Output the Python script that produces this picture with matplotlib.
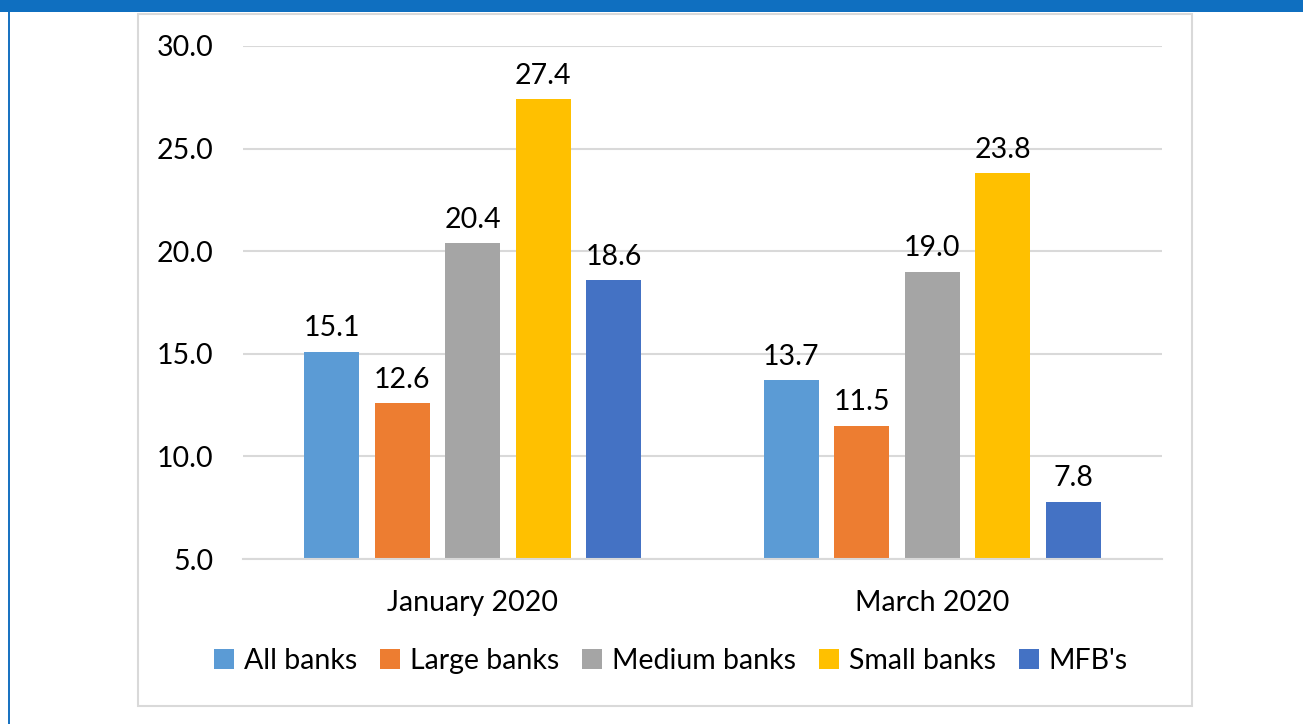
import matplotlib.pyplot as plt
import numpy as np
from matplotlib.patches import Rectangle, Patch

plt.rcParams['font.family'] = ['Lato', 'DejaVu Sans']

periods = ['January 2020', 'March 2020']
groups = ['All banks', 'Large banks', 'Medium banks', 'Small banks', "MFB's"]
colors = ['#5b9bd5', '#ed7d31', '#a5a5a5', '#ffc000', '#4472c4']

all_banks = [15.1, 13.7]
large_banks = [12.6, 11.5]
medium_banks = [20.4, 19.0]
small_banks = [27.4, 23.8]
mfbs = [18.6, 7.8]
series = [all_banks, large_banks, medium_banks, small_banks, mfbs]

W, H = 1303, 724
FS = 20.5
fig = plt.figure(figsize=(W / 100, H / 100), dpi=100)

# blue header band and left edge line
fig.add_artist(Rectangle((0, 1 - 12 / H), 1, 12 / H, transform=fig.transFigure,
                         color='#0f6fc0', lw=0))
fig.add_artist(Rectangle((7.5 / W, 0), 2.5 / W, 1 - 12 / H, transform=fig.transFigure,
                         color='#1a73c1', lw=0))
# chart area frame
fig.add_artist(Rectangle((138 / W, 1 - 706 / H), (1192 - 138) / W, (706 - 14) / H,
                         transform=fig.transFigure, fill=False,
                         edgecolor='#d9d9d9', lw=1.5))

ax = fig.add_axes([243 / W, 1 - 559 / H, 919 / W, 513 / H])

x = np.arange(len(periods))
step = 0.1535
width = 0.12
for i, (vals, c) in enumerate(zip(series, colors)):
    pos = x + (i - 2) * step
    ax.bar(pos, vals, width=width, color=c, zorder=2)
    for p, v in zip(pos, vals):
        ax.text(p, v + 0.5, f'{v:.1f}', ha='center', va='bottom', fontsize=FS)

ax.set_xlim(-0.5, 1.5)
ax.set_ylim(5, 30)
ax.set_yticks(np.arange(5, 31, 5))
ax.set_yticklabels([f'{t:.1f}' for t in np.arange(5, 31, 5)])
ax.set_xticks(x)
ax.set_xticklabels(periods)
ax.yaxis.grid(True, color='#d9d9d9', lw=1.5, zorder=0)
ax.set_axisbelow(True)
for s in ax.spines.values():
    s.set_visible(False)
ax.spines['bottom'].set_visible(True)
ax.spines['bottom'].set_color('#d9d9d9')
ax.spines['bottom'].set_linewidth(1.5)
ax.tick_params(axis='y', length=0, pad=21, labelsize=FS)
ax.tick_params(axis='x', length=0, pad=22, labelsize=FS)

handles = [Patch(facecolor=c, label=g) for g, c in zip(groups, colors)]
fig.legend(handles=handles, loc='center', bbox_to_anchor=(671 / W, 1 - 661 / H),
           ncol=5, frameon=False, fontsize=FS, handlelength=0.7, handleheight=0.7,
           handletextpad=0.35, columnspacing=0.8)

fig.savefig('out.png', dpi=100)
